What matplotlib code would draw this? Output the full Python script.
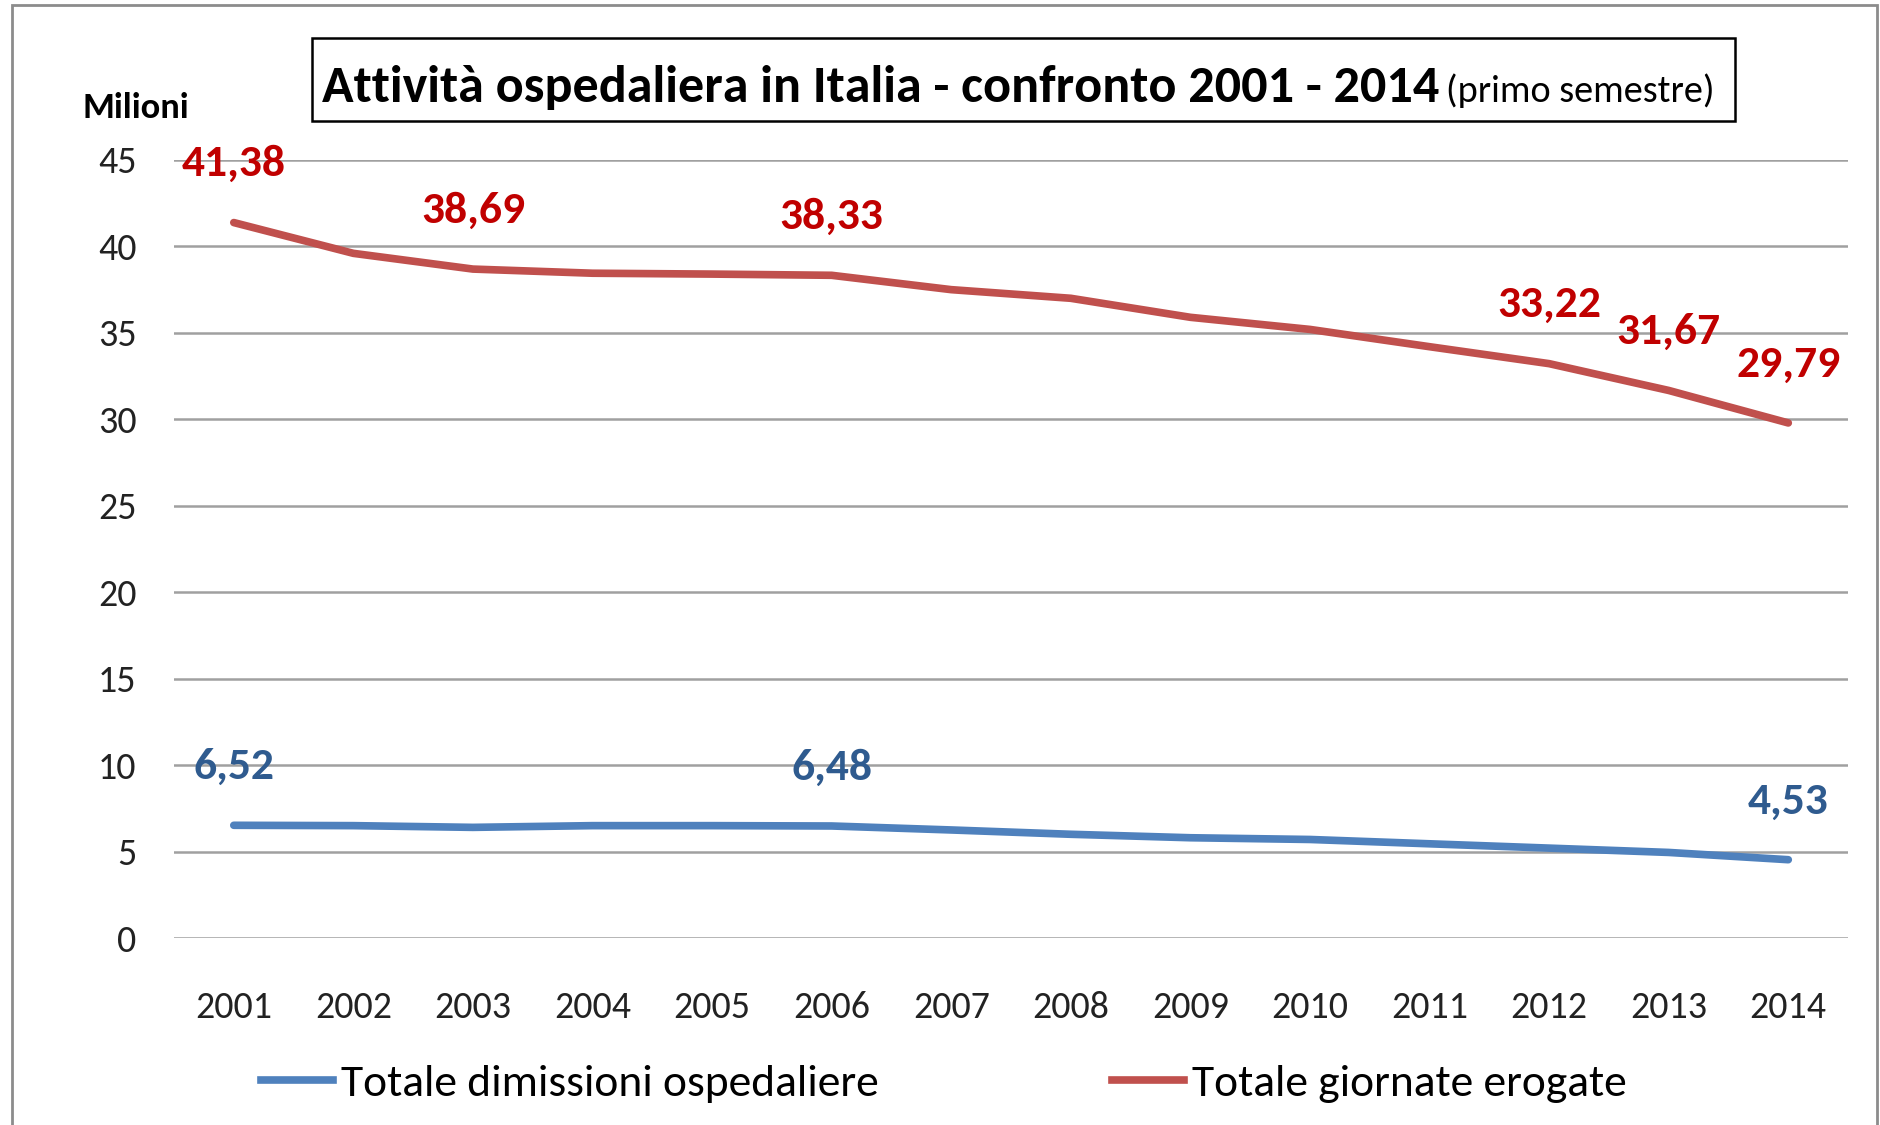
import numpy as np
import matplotlib.pyplot as plt
from matplotlib import font_manager
from matplotlib.lines import Line2D
from matplotlib.patches import Rectangle

# font stretto, simile al Calibri dell'originale
voci = font_manager.fontManager.ttflist
nomi = {f.name for f in voci}
famiglia, stretch = 'DejaVu Sans', 'normal'
for nome in ['Carlito', 'Liberation Sans Narrow', 'Roboto Condensed',
             'Open Sans Condensed', 'Noto Sans Condensed']:
    if nome in nomi:
        famiglia = nome
        break
else:
    for nome in ['Noto Sans', 'DejaVu Sans', 'Open Sans']:
        if any(f.name == nome and str(f.stretch) in ('condensed', 'semi-condensed') for f in voci):
            famiglia, stretch = nome, 'condensed'
            break
plt.rcParams['font.family'] = [famiglia, 'DejaVu Sans']
plt.rcParams['font.stretch'] = stretch

anni = ['2001', '2002', '2003', '2004', '2005', '2006', '2007',
        '2008', '2009', '2010', '2011', '2012', '2013', '2014']
giornate = [41.38, 39.6, 38.69, 38.45, 38.4, 38.33, 37.5,
            37.0, 35.9, 35.2, 34.2, 33.22, 31.67, 29.79]
dimissioni = [6.52, 6.5, 6.4, 6.5, 6.5, 6.48, 6.25,
              6.0, 5.8, 5.7, 5.45, 5.2, 4.95, 4.53]
etichette_giornate = ['2001', '2003', '2006', '2012', '2013', '2014']
etichette_dimissioni = ['2001', '2006', '2014']
titolo = 'Attività ospedaliera in Italia - confronto 2001 - 2014'
sottotitolo = '(primo semestre)'
serie_nomi = ['Totale dimissioni ospedaliere', 'Totale giornate erogate']

rosso = '#C0504D'
blu = '#4F81BD'

fig = plt.figure(figsize=(18.81, 11.25), dpi=100)
renderer = fig.canvas.get_renderer()

def adatta(testo, larghezza, **kw):
    # dimensione del font che da' la larghezza voluta (in pixel)
    t = fig.text(0, 0, testo, fontsize=20, **kw)
    w = t.get_window_extent(renderer).width
    t.remove()
    return 20 * larghezza / w

fs_tick = adatta('2001', 77)
fs_lab = adatta('41,38', 104, fontweight='bold')
fs_mil = adatta('Milioni', 107, fontweight='bold')
fs_tit = adatta(titolo, 1118, fontweight='bold')
fs_sub = adatta(sottotitolo, 268)
fs_leg = adatta(serie_nomi[0], 538)

ax = fig.add_axes([0.0925, 0.1662, 0.89, 0.6916])

x = np.arange(len(anni))
ax.plot(x, dimissioni, color=blu, lw=5.5, solid_capstyle='round')
ax.plot(x, giornate, color=rosso, lw=5.5, solid_capstyle='round')

def etichetta(serie, quali, colore):
    for a in quali:
        i = anni.index(a)
        ax.annotate('{:.2f}'.format(serie[i]).replace('.', ','), (i, serie[i]),
                    xytext=(0, 42), textcoords='offset points', ha='center', va='center',
                    fontsize=fs_lab, fontweight='bold', color=colore)

etichetta(giornate, etichette_giornate, '#C00000')
etichetta(dimissioni, etichette_dimissioni, '#2F5B8F')

ax.set_xlim(-0.5, len(anni) - 0.5)
ax.set_ylim(0, 45)
ax.set_yticks(range(0, 50, 5))
ax.set_xticks(x)
ax.set_xticklabels(anni)
ax.yaxis.grid(True, color='#A0A0A0', lw=1.8)
ax.set_axisbelow(True)
for s in ax.spines.values():
    s.set_visible(False)
ax.tick_params(length=0, labelsize=fs_tick, colors='#222222')
ax.tick_params(axis='y', pad=27)
ax.tick_params(axis='x', pad=38)

fig.text(0.0436, 0.904, 'Milioni', fontsize=fs_mil, fontweight='bold', ha='left', va='center')

# titolo con riquadro
t1 = fig.text(0.171, 0.909, titolo, fontsize=fs_tit, fontweight='bold', ha='left', va='baseline')
bb = t1.get_window_extent(renderer).transformed(fig.transFigure.inverted())
fig.text(bb.x1 + 0.004, 0.909, sottotitolo, fontsize=fs_sub, ha='left', va='baseline')
fig.patches.append(Rectangle((0.1659, 0.8924), 0.7565, 0.0738, transform=fig.transFigure,
                             fill=False, ec='black', lw=1.8))

# cornice
fig.patches.append(Rectangle((0.0064, -0.01), 0.9915, 1.0056, transform=fig.transFigure,
                             fill=False, ec='#8C8C8C', lw=2))

fs_px = fs_leg * 100 / 72
maniglie = [Line2D([], [], color=blu, lw=5.5), Line2D([], [], color=rosso, lw=5.5)]
fig.legend(maniglie, serie_nomi, loc='center left', bbox_to_anchor=(0.139, 0.0365), ncol=2,
           frameon=False, prop={'size': fs_leg}, borderpad=0, borderaxespad=0,
           handlelength=72 / fs_px, handletextpad=8 / fs_px, columnspacing=233 / fs_px)

fig.savefig('out.png', dpi=100)
